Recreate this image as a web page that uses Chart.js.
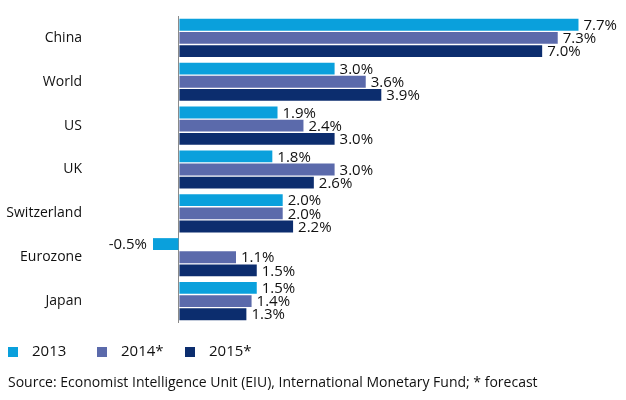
<!DOCTYPE html>
<html><head><meta charset="utf-8">
<script src="https://cdn.jsdelivr.net/npm/chart.js@4"></script>
<style>html,body{margin:0;padding:0;background:#fff}#wrap{width:626px;height:400px;position:relative}</style>
</head><body><div id="wrap"><canvas id="c"></canvas></div>
<script>
const categories = ["China","World","US","UK","Switzerland","Eurozone","Japan"];
const seriesNames = ["2013","2014*","2015*"];
const values2013 = [7.7,3.0,1.9,1.8,2.0,-0.5,1.5];
const values2014 = [7.3,3.6,2.4,3.0,2.0,1.1,1.4];
const values2015 = [7.0,3.9,3.0,2.6,2.2,1.5,1.3];
const colors = ["#0aa0dc","#5b6aab","#0c2d6e"];
const sourceText = "Source: Economist Intelligence Unit (EIU), International Monetary Fund; * forecast";
const FONT = "'Open Sans', sans-serif";

const labelPlugin = {
  id:'vals',
  afterDatasetsDraw(chart){
    const ctx = chart.ctx;
    ctx.save();
    ctx.font = "15px " + FONT;
    ctx.fillStyle = "#111";
    ctx.textBaseline = "middle";
    chart.data.datasets.forEach((ds,i)=>{
      const meta = chart.getDatasetMeta(i);
      meta.data.forEach((el,j)=>{
        const v = ds.data[j];
        const t = v.toFixed(1) + "%";
        if (v >= 0){ ctx.textAlign="left"; ctx.fillText(t, el.x+5, el.y+1); }
        else { ctx.textAlign="right"; ctx.fillText(t, el.x-6, el.y+1); }
      });
    });
    ctx.restore();
  },
  afterDraw(chart){
    const ctx = chart.ctx;
    ctx.save();
    ctx.font = "15px " + FONT;
    ctx.textBaseline = "middle";
    ctx.textAlign = "left";
    const xs = [8,97,185];
    chart.data.datasets.forEach((ds,i)=>{
      ctx.fillStyle = ds.backgroundColor;
      ctx.fillRect(xs[i], 347, 10, 10);
      ctx.fillStyle = "#111";
      ctx.fillText(ds.label, xs[i]+24, 352);
    });
    ctx.font = "14px " + FONT;
    ctx.fillText(sourceText, 8, 383);
    ctx.restore();
  }
};

new Chart(document.getElementById('c'), {
  type:'bar',
  data:{
    labels: categories,
    datasets:[
      {label:seriesNames[0], data:values2013, backgroundColor:colors[0]},
      {label:seriesNames[1], data:values2014, backgroundColor:colors[1]},
      {label:seriesNames[2], data:values2015, backgroundColor:colors[2]}
    ]
  },
  options:{
    indexAxis:'y',
    responsive:true, maintainAspectRatio:false, animation:false,
    categoryPercentage:0.9, barPercentage:0.9,
    layout:{padding:{top:16,right:6,bottom:77,left:0}},
    plugins:{legend:{display:false}, tooltip:{enabled:false}},
    scales:{
      x:{min:-1.81,max:8.5,
        ticks:{display:false, stepSize:1},
        border:{display:false},
        grid:{drawTicks:false, lineWidth:1,
          color:(c)=> (c.tick && c.tick.value===0) ? "#8a8a8a" : "rgba(0,0,0,0)"}
      },
      y:{
        grid:{display:false, drawTicks:false}, border:{display:false},
        ticks:{crossAlign:'near', padding:3, color:"#111", font:{family:FONT, size:14}},
        afterFit(s){ s.width = 85; }
      }
    }
  },
  plugins:[labelPlugin]
});
</script></body></html>
